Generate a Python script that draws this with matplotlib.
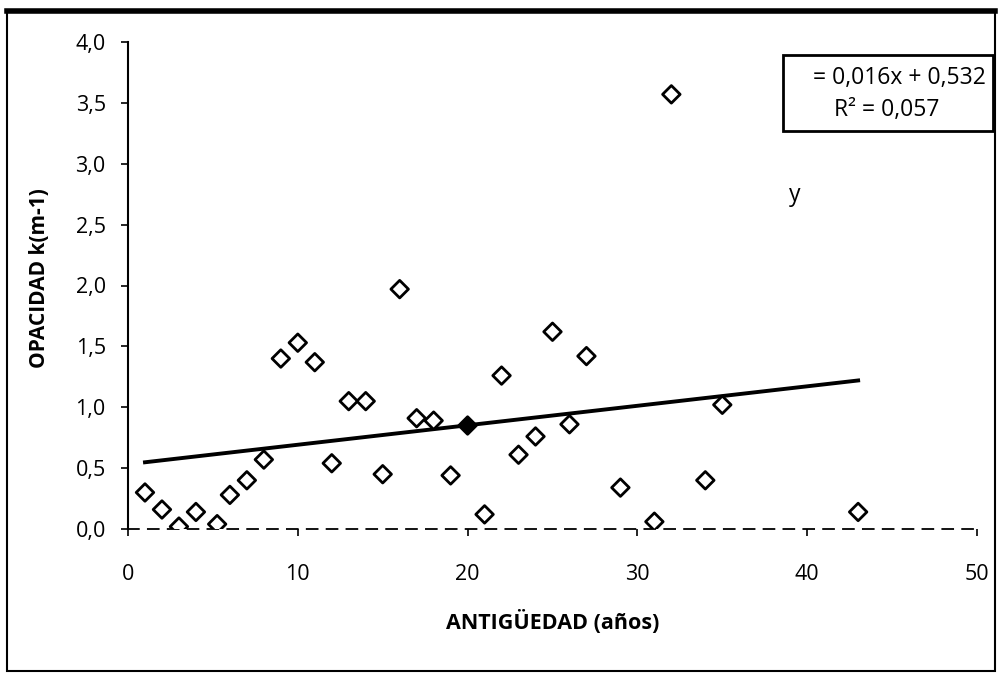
"""
Opacidad vs antigüedad -- dispersión con recta de tendencia
"""

import numpy as np
import matplotlib.pyplot as plt
from matplotlib.patches import Rectangle
from matplotlib.ticker import FuncFormatter

plt.rcParams['font.family'] = ['Open Sans', 'DejaVu Sans']

# ── datos ────────────────────────────────────────────────────────────────
antiguedad = [1, 2, 3, 4, 5.25, 6, 7, 8, 9, 10, 11, 12, 13, 14, 15, 16, 17, 18,
              19, 20, 21, 22, 23, 24, 25, 26, 27, 29, 31, 32, 34, 35, 43]
opacidad = [0.30, 0.16, 0.02, 0.14, 0.04, 0.28, 0.40, 0.57, 1.40, 1.53, 1.37,
            0.54, 1.05, 1.05, 0.45, 1.97, 0.91, 0.89, 0.44, 0.85, 0.12, 1.26,
            0.61, 0.76, 1.62, 0.86, 1.42, 0.34, 0.06, 3.57, 0.40, 1.02, 0.14]
pendiente, ordenada = 0.016, 0.532
r2 = 0.057
x_ticks = [0, 10, 20, 30, 40, 50]
y_ticks = [0.0, 0.5, 1.0, 1.5, 2.0, 2.5, 3.0, 3.5, 4.0]

W, H = 999, 673
fig = plt.figure(figsize=(W / 100, H / 100), dpi=100)
ax = fig.add_axes([128 / W, 1 - 529 / H, (977 - 128) / W, (529 - 42) / H])

x = np.array(antiguedad)
y = np.array(opacidad)
relleno = ['black' if xi == 20 else 'white' for xi in x]
ax.scatter(x, y, marker='D', s=80, facecolors=relleno, edgecolors='black',
           linewidths=2, zorder=3)

xl = np.array([x.min(), x.max()])
ax.plot(xl, pendiente * xl + ordenada, color='black', lw=2.8, zorder=2)

ax.set_xlim(0, 50)
ax.set_ylim(0, 4)
ax.set_xticks(x_ticks)
ax.set_yticks(y_ticks)
ax.yaxis.set_major_formatter(FuncFormatter(lambda v, p: f'{v:.1f}'.replace('.', ',')))
ax.tick_params(labelsize=15.5, length=5, width=1.2, direction='out')
ax.tick_params(axis='y', pad=11)
ax.tick_params(axis='x', pad=20)

for s in ['top', 'right']:
    ax.spines[s].set_visible(False)
ax.spines['left'].set_linewidth(1.5)
ax.spines['bottom'].set_linewidth(1.3)
ax.spines['bottom'].set_linestyle((0, (6, 5)))

# etiquetas de ejes
fig.text(553 / W, 1 - 622 / H, 'ANTIGÜEDAD (años)', ha='center', va='center',
         fontsize=15.5, fontweight='bold')
fig.text(40 / W, 1 - 278 / H, 'OPACIDAD k(m-1)', ha='center', va='center',
         rotation=90, fontsize=15, fontweight='bold')

# cuadro de la ecuación
fig.patches.append(Rectangle((783 / W, 1 - 131 / H), (993 - 783) / W, (131 - 55) / H,
                             transform=fig.transFigure, fill=False, lw=2, ec='black'))
fig.text(986 / W, 1 - 78 / H, f'= {pendiente:.3f}x + {ordenada:.3f}'.replace('.', ','),
         ha='right', va='center', fontsize=16.5)
fig.text(887 / W, 1 - 110 / H, f'R² = {r2:.3f}'.replace('.', ','),
         ha='center', va='center', fontsize=16.5)
fig.text(795 / W, 1 - 195 / H, 'y', ha='center', va='center', fontsize=16.5)

# marco exterior
fig.patches.append(Rectangle((7 / W, 1 - 671 / H), (995 - 7) / W, (671 - 11) / H,
                             transform=fig.transFigure, fill=False, lw=1.5, ec='black'))
fig.add_artist(plt.Line2D([7 / W, 995 / W], [1 - 11 / H, 1 - 11 / H],
                          transform=fig.transFigure, color='black', lw=4))

plt.savefig('out.png', dpi=100)
